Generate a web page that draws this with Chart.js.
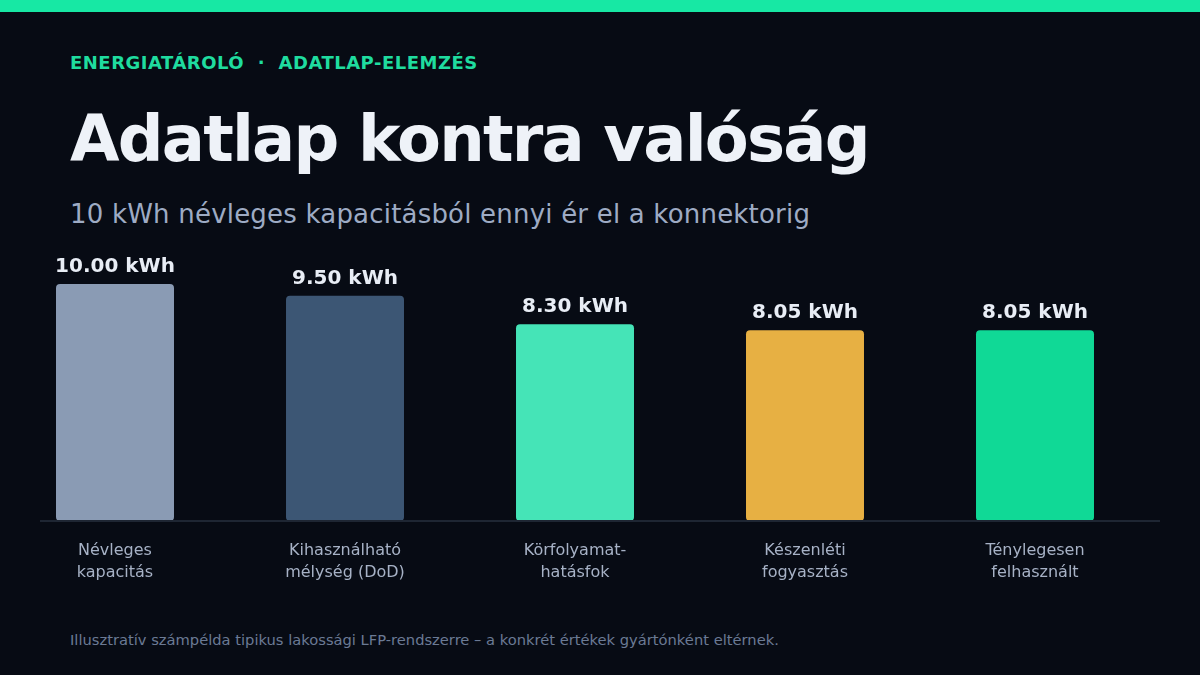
<!DOCTYPE html>
<html>
<head>
<meta charset="utf-8">
<script src="https://cdn.jsdelivr.net/npm/chart.js@4"></script>
<style>
  html, body { margin: 0; padding: 0; }
  body {
    width: 1200px; height: 675px; overflow: hidden; position: relative;
    background: #070b14; font-family: "DejaVu Sans", sans-serif;
  }
  .topbar { position: absolute; left: 0; top: 0; width: 1200px; height: 12px; background: #17e8a4; }
  .kicker { position: absolute; left: 70px; top: 52px; font-size: 18px; font-weight: bold; color: #1fdc9f; white-space: pre; letter-spacing: 0.5px; }
  h1 { position: absolute; left: 70px; top: 101px; margin: 0; font-size: 64px; font-weight: bold; color: #eef2f8; line-height: 76px; letter-spacing: -1.8px; }
  .sub { position: absolute; left: 70px; top: 199px; font-size: 26px; color: #9eabc4; letter-spacing: 0.2px; }
  .note { position: absolute; left: 70px; top: 631px; font-size: 14.7px; color: #6b7a94; }
  .wrap { position: absolute; left: 0; top: 240px; width: 1200px; height: 380px; }
</style>
</head>
<body>
<div class="topbar"></div>
<div class="kicker">ENERGIATÁROLÓ  ·  ADATLAP-ELEMZÉS</div>
<h1>Adatlap kontra valóság</h1>
<div class="sub">10 kWh névleges kapacitásból ennyi ér el a konnektorig</div>
<div class="wrap"><canvas id="chart"></canvas></div>
<div class="note">Illusztratív számpélda tipikus lakossági LFP-rendszerre – a konkrét értékek gyártónként eltérnek.</div>

<script>
// Data
const stages = [
  ["Névleges", "kapacitás"],
  ["Kihasználható", "mélység (DoD)"],
  ["Körfolyamat-", "hatásfok"],
  ["Készenléti", "fogyasztás"],
  ["Ténylegesen", "felhasznált"],
];
const energyKwh = [10.0, 9.5, 8.3, 8.05, 8.05];
const barColors = ["#8a9bb4", "#3c5674", "#45e4b7", "#e7b043", "#10d996"];

// value labels above the bars + baseline
const extras = {
  id: "extras",
  afterDatasetsDraw(chart) {
    const c = chart.ctx;
    const y0 = chart.scales.y.getPixelForValue(0);
    c.save();
    c.strokeStyle = "#1e2633";
    c.lineWidth = 2;
    c.beginPath();
    c.moveTo(40, y0);
    c.lineTo(1160, y0);
    c.stroke();

    c.fillStyle = "#e8edf5";
    c.font = "bold 20px 'DejaVu Sans'";
    c.textAlign = "center";
    c.textBaseline = "alphabetic";
    chart.getDatasetMeta(0).data.forEach((bar, i) => {
      c.fillText(energyKwh[i].toFixed(2) + " kWh", bar.x, bar.y - 12);
    });
    c.restore();
  },
};

new Chart(document.getElementById("chart"), {
  type: "bar",
  data: {
    labels: stages,
    datasets: [
      {
        data: energyKwh,
        backgroundColor: barColors,
        borderRadius: 4,
        borderSkipped: false,
        barPercentage: 0.513,
        categoryPercentage: 1,
      },
    ],
  },
  options: {
    responsive: true,
    maintainAspectRatio: false,
    animation: false,
    layout: { padding: { left: 0, right: 50, top: 44, bottom: 17 } },
    plugins: { legend: { display: false }, tooltip: { enabled: false } },
    scales: {
      x: {
        grid: { display: false, drawTicks: false },
        border: { display: false },
        ticks: {
          color: "#a7b2c6",
          padding: 19,
          font: { family: "DejaVu Sans", size: 16, lineHeight: 1.375 },
          maxRotation: 0,
        },
      },
      y: {
        display: false,
        min: 0,
        max: 10,
      },
    },
  },
  plugins: [extras],
});
</script>
</body>
</html>
